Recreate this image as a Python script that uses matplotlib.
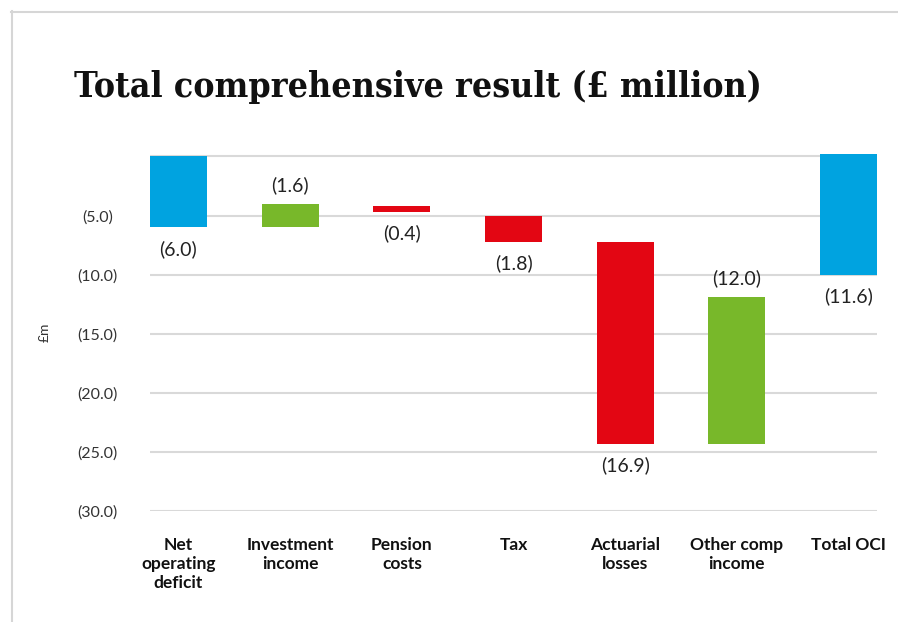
import matplotlib.pyplot as plt
from matplotlib.lines import Line2D

# categories and bar extents (in £m)
categories = ['Net\noperating\ndeficit', 'Investment\nincome', 'Pension\ncosts', 'Tax',
              'Actuarial\nlosses', 'Other comp\nincome', 'Total OCI']
bar_top = [0.0, -4.0, -4.2, -5.05, -7.25, -11.9, 0.2]
bar_bottom = [-6.0, -6.0, -4.7, -7.2, -24.3, -24.3, -10.0]
labels = ['(6.0)', '(1.6)', '(0.4)', '(1.8)', '(16.9)', '(12.0)', '(11.6)']
label_above = [False, True, False, False, False, True, False]
colors = ['#00A3E0', '#78B82A', '#E30613', '#E30613', '#E30613', '#78B82A', '#00A3E0']

yticks = [0, -5, -10, -15, -20, -25, -30]
ytick_labels = ['', '(5.0)', '(10.0)', '(15.0)', '(20.0)', '(25.0)', '(30.0)']

fig = plt.figure(figsize=(8.98, 6.22), dpi=100)
ax = fig.add_axes([150 / 898, 1 - 511 / 622, 727 / 898, 357 / 622])

x = range(len(categories))
heights = [t - b for t, b in zip(bar_top, bar_bottom)]
ax.bar(x, heights, bottom=bar_bottom, width=0.51, color=colors, zorder=3)

for i in x:
    if label_above[i]:
        ax.annotate(labels[i], (i, bar_top[i]), xytext=(0, 13.5), textcoords='offset points',
                    ha='center', va='center', fontsize=14, color='#222222', family='Lato')
    else:
        ax.annotate(labels[i], (i, bar_bottom[i]), xytext=(0, -15.5), textcoords='offset points',
                    ha='center', va='center', fontsize=14, color='#222222', family='Lato')

ax.set_xlim(-0.255, len(categories) - 1 + 0.255)
ax.set_ylim(-30, 0.21)
ax.set_yticks(yticks)
ax.set_yticklabels(ytick_labels, family='Lato', fontsize=11.5, color='#333333', ha='center')
ax.tick_params(axis='y', length=0, pad=38)
ax.set_xticks(list(x))
ax.set_xticklabels(categories, family='Lato', fontweight='bold', fontsize=12.5,
                   color='#111111', linespacing=1.25, va='top')
ax.tick_params(axis='x', length=0, pad=18.5)
ax.grid(axis='y', color='#d9d9d9', linewidth=1.5, zorder=0)
for s in ax.spines.values():
    s.set_visible(False)

fig.text(45 / 898, 1 - 332 / 622, '£m', rotation=90, ha='center', va='center',
         fontsize=10, color='#333333', family='Lato')

fig.text(74 / 898, 1 - 87 / 622, 'Total comprehensive result (£ million)',
         ha='left', va='center', fontsize=25.6, fontweight='bold', family='DejaVu Serif',
         fontstretch='condensed', color='#111111')

# light frame around the panel
fig.add_artist(Line2D([11 / 898, 1], [1 - 11.5 / 622] * 2, transform=fig.transFigure,
                      color='#d6d6d6', linewidth=1.5))
fig.add_artist(Line2D([11.5 / 898] * 2, [0, 1 - 11 / 622], transform=fig.transFigure,
                      color='#d6d6d6', linewidth=1.5))

fig.savefig('out.png', dpi=100)
